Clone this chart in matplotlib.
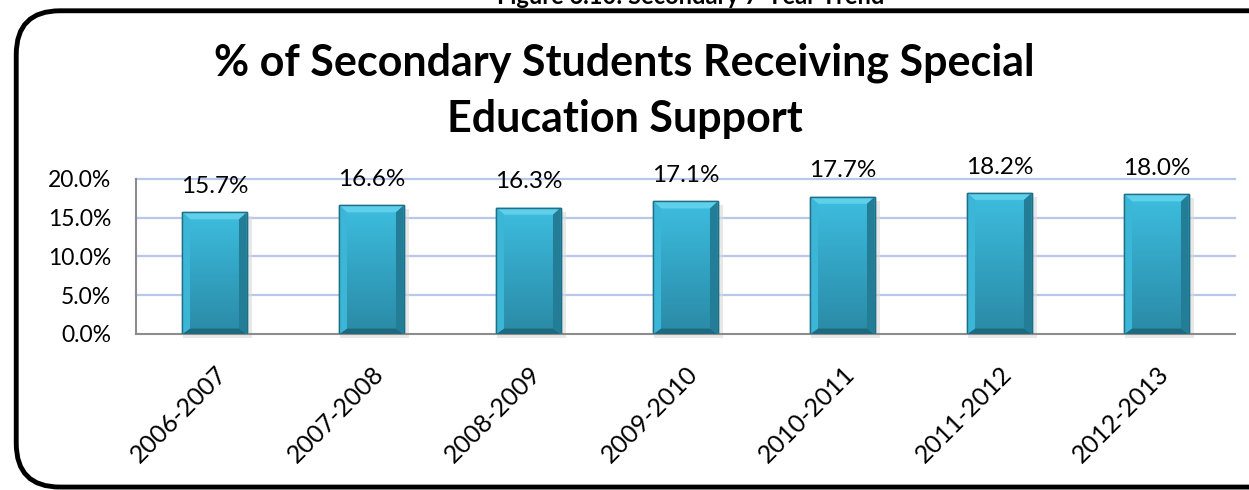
import numpy as np
import matplotlib.pyplot as plt
from matplotlib.patches import FancyBboxPatch
from matplotlib.colors import LinearSegmentedColormap

# School years and share of secondary students on special education support (%)
years = ["2006-2007", "2007-2008", "2008-2009", "2009-2010",
         "2010-2011", "2011-2012", "2012-2013"]
pct = [15.7, 16.6, 16.3, 17.1, 17.7, 18.2, 18.0]
yticks = [0, 5, 10, 15, 20]

plt.rcParams["font.family"] = ["Lato", "DejaVu Sans"]

fig = plt.figure(figsize=(12.49, 4.9), dpi=100, facecolor="white")

# rounded frame around the chart
frame = FancyBboxPatch((0.013, 0.006), 1.2, 0.972, boxstyle="round,pad=0,rounding_size=0.035",
                       transform=fig.transFigure, facecolor="none", edgecolor="black",
                       linewidth=3.5, mutation_aspect=2.55, zorder=0)
fig.patches.append(frame)

# caption sitting above the frame, clipped by the top edge
fig.text(0.553, 0.984, "Figure 6.10: Secondary 7-Year Trend", ha="center", va="bottom",
         fontsize=17, color="black", fontweight="bold")

# two-line chart title
fig.text(0.5, 1 - 75 / 490, "% of Secondary Students Receiving Special",
         ha="center", va="baseline", fontsize=31, fontweight="bold")
fig.text(0.5, 1 - 132 / 490, "Education Support",
         ha="center", va="baseline", fontsize=31, fontweight="bold")

ax = fig.add_axes([0.1089, 0.3184, 0.8799, 0.3163])
x = np.arange(len(years))
bw = 0.41

ax.set_xlim(-0.5, len(years) - 0.5)
ax.set_ylim(0, 20)
ax.set_yticks(yticks)
ax.set_yticklabels([f"{v:.1f}%" for v in yticks], fontsize=16.5)
ax.tick_params(axis="y", length=0, pad=18)
ax.tick_params(axis="x", length=0, pad=20)
ax.set_xticks(x)
ax.set_xticklabels(years, rotation=45, ha="right", rotation_mode="anchor", fontsize=18)

for s in ["top", "right"]:
    ax.spines[s].set_visible(False)
ax.spines["left"].set_color("#8c8c8c")
ax.spines["bottom"].set_color("#8c8c8c")
ax.spines["left"].set_linewidth(1.5)
ax.spines["bottom"].set_linewidth(1.5)

for v in yticks[1:]:
    ax.axhline(v, color="#b8c8ec", linewidth=1.6, zorder=0, clip_on=False)

# soft drop shadow under each bar
ax.bar(x + 0.02, pct, bw + 0.03, bottom=-0.5, color="#d9d9d9", alpha=0.6,
       linewidth=0, zorder=1, clip_on=False)
bars = ax.bar(x, pct, bw, color="#37aacb", edgecolor="#1f6f86", linewidth=1.0, zorder=2)

grad = LinearSegmentedColormap.from_list("bevel", ["#2a8aa5", "#33a3c3", "#3ebedf"])
img = np.linspace(0, 1, 256).reshape(-1, 1)
for b, v in zip(bars, pct):
    x0 = b.get_x()
    im = ax.imshow(img, cmap=grad, origin="lower", aspect="auto",
                   extent=(x0, x0 + bw, 0, v), zorder=2.5)
    im.set_clip_path(b)
    # bevelled edges
    ax.fill([x0, x0 + bw, x0 + bw * 0.88, x0 + bw * 0.12],
            [v, v, v - 0.9, v - 0.9], color="#5fd0ec", zorder=3, linewidth=0)
    ax.fill([x0, x0 + bw, x0 + bw * 0.88, x0 + bw * 0.12],
            [0, 0, 0.7, 0.7], color="#1d6a80", zorder=3, linewidth=0)
    ax.fill([x0 + bw, x0 + bw, x0 + bw * 0.88, x0 + bw * 0.88],
            [0, v, v - 0.9, 0.7], color="#237d96", zorder=3, linewidth=0)
    ax.fill([x0, x0, x0 + bw * 0.12, x0 + bw * 0.12],
            [0, v, v - 0.9, 0.7], color="#3cb6d6", zorder=3, linewidth=0)
    ax.add_patch(plt.Rectangle((x0, 0), bw, v, fill=False, edgecolor="#1f6f86",
                               linewidth=1.0, zorder=3.5))
    ax.annotate(f"{v:.1f}%", (x0 + bw / 2, v), xytext=(0, 14), textcoords="offset points",
                ha="center", va="baseline", fontsize=17.5, annotation_clip=False)

ax.set_xlim(-0.5, len(years) - 0.5)
ax.set_ylim(0, 20)

fig.savefig("out.png", dpi=100, facecolor="white")
